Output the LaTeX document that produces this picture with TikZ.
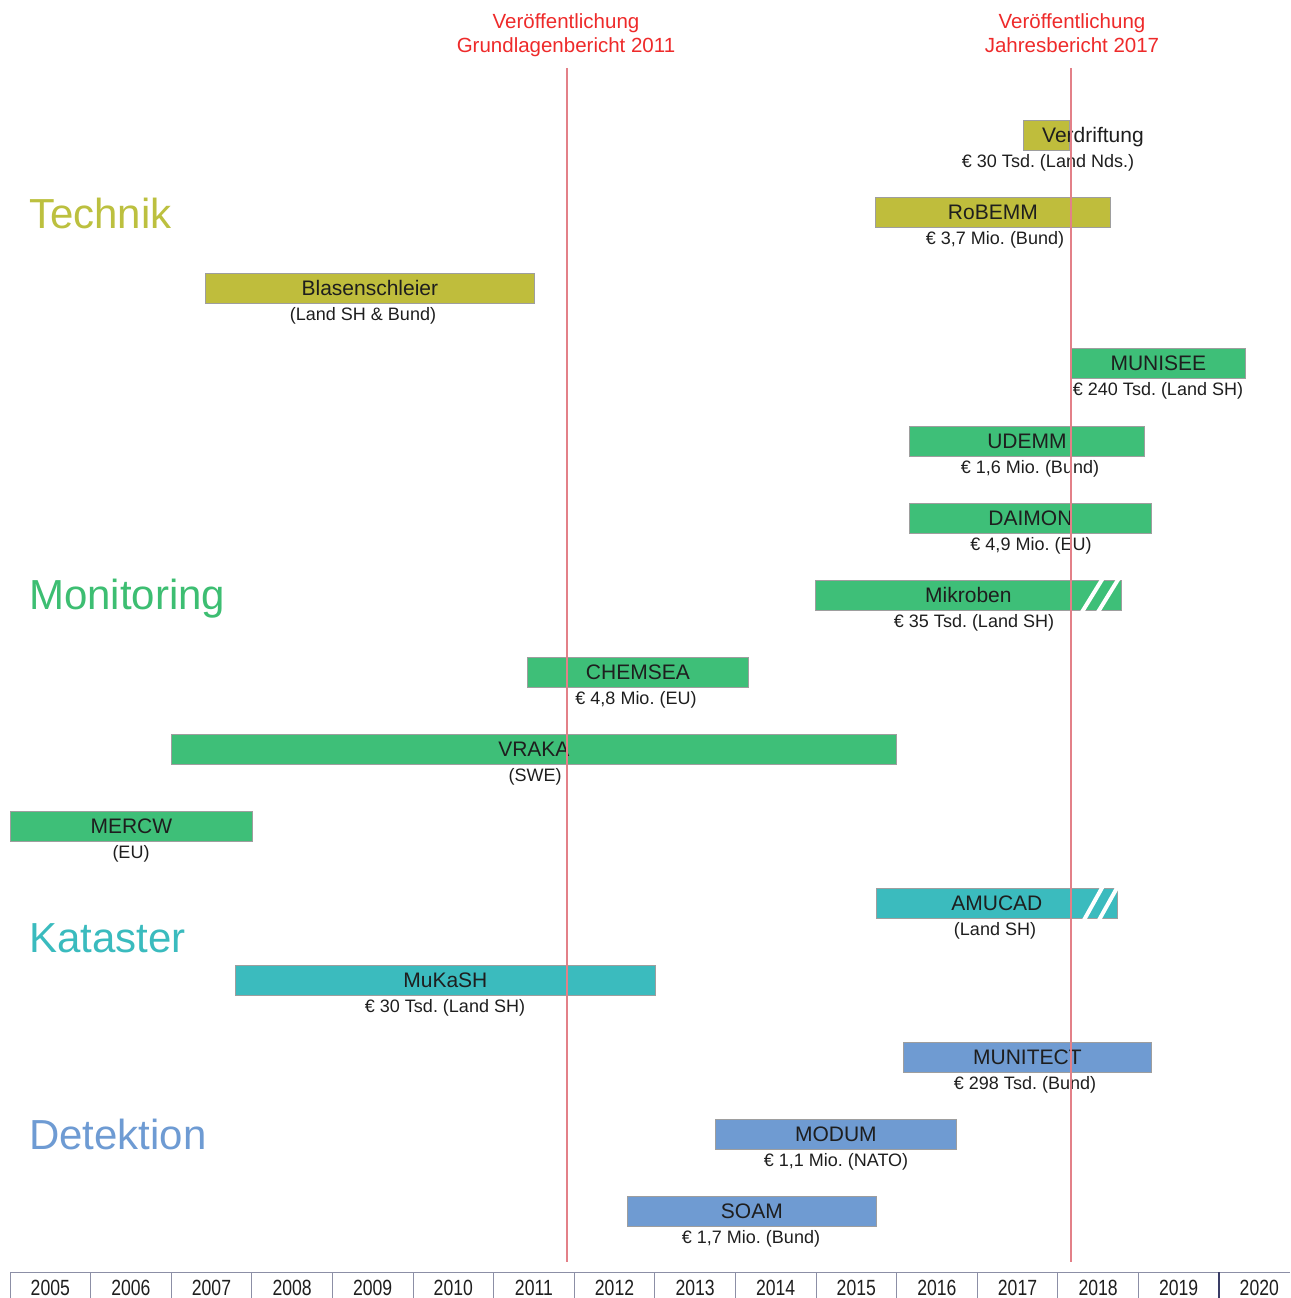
\documentclass[tikz,border=0pt]{standalone}
\usepackage{fontspec}
\setmainfont{Liberation Sans}
\frenchspacing
\definecolor{tech}{HTML}{BFBD3C}
\definecolor{techtxt}{HTML}{BCC03F}
\definecolor{moni}{HTML}{3EBF78}
\definecolor{monitxt}{HTML}{3DBE72}
\definecolor{kata}{HTML}{3BBBBE}
\definecolor{katatxt}{HTML}{3ABBBE}
\definecolor{dete}{HTML}{6F9BD2}
\definecolor{detetxt}{HTML}{6E9BD3}
\definecolor{pubred}{HTML}{EE2A2A}
\definecolor{publine}{HTML}{E38088}
\definecolor{axisc}{HTML}{8C8FA6}
\definecolor{axisdark}{HTML}{3A3D66}
\definecolor{txtdark}{HTML}{1E1E1E}
\newcommand\pbar[8]{%
  \node[projbar, fill=#5, minimum width={(#3)-(#2)}, anchor=north west] (#1) at (#2,#4) {#6};
  \node[sublabel, anchor=base] (#1-sub) at (#7,#4+47) {#8};
}
\begin{document}
\begin{tikzpicture}[x=1pt,y=-1pt,
  projbar/.style={draw=black!38, line width=0.8pt, inner sep=0pt, minimum height=30pt,
    text height=15pt, text depth=0pt, font=\fontsize{21}{24}\selectfont, text=txtdark},
  sublabel/.style={inner sep=0pt, font=\fontsize{18}{20}\selectfont, text=txtdark},
  category/.style={anchor=base west, inner sep=0pt, font=\fontsize{42}{48}\selectfont},
  pubtitle/.style={align=center, inner sep=0pt, anchor=north, text=pubred, font=\fontsize{20.5}{24}\selectfont},
  pubmark/.style={draw=publine, line width=1.4pt},
  yearlabel/.style={inner sep=0pt, anchor=base, font=\fontsize{22}{24}\selectfont, text=txtdark},
  stripe/.style={draw=white, line width=4pt}
]
\useasboundingbox (0,0) rectangle (1290,1298);

% category labels
\node[category, text=techtxt] (technik) at (29,228) {Technik};
\node[category, text=monitxt] (monitoring) at (29,609) {Monitoring};
\node[category, text=katatxt] (kataster) at (29,952) {Kataster};
\node[category, text=detetxt] (detektion) at (29,1149) {Detektion};

% publication titles
\node[pubtitle] (pub2011) at (566,13) {Veröffentlichung\\Grundlagenbericht 2011};
\node[pubtitle] (pub2017) at (1072,13) {Veröffentlichung\\Jahresbericht 2017};

% Technik
\node[projbar, fill=tech, minimum width=46pt, anchor=north west] (verdriftung) at (1023,120) {};
\node[inner sep=0pt, anchor=base west, font=\fontsize{21}{24}\selectfont, text=txtdark] (verdriftung-t) at (1042,142.5) {Verdriftung};
\node[sublabel, anchor=base] (verdriftung-sub) at (1048,167) {€ 30 Tsd. (Land Nds.)};
\pbar{robemm}{875}{1110}{197}{tech}{RoBEMM}{995}{€ 3,7 Mio. (Bund)}
\pbar{blasen}{205}{534}{273}{tech}{Blasenschleier}{363}{(Land SH \& Bund)}

% Monitoring
\pbar{munisee}{1071}{1245}{348}{moni}{MUNISEE}{1158}{€ 240 Tsd. (Land SH)}
\pbar{udemm}{909}{1144}{426}{moni}{UDEMM}{1030}{€ 1,6 Mio. (Bund)}
\pbar{daimon}{909}{1151}{503}{moni}{DAIMON}{1031}{€ 4,9 Mio. (EU)}
\pbar{mikroben}{815}{1121}{580}{moni}{Mikroben}{974}{€ 35 Tsd. (Land SH)}
\pbar{chemsea}{527}{748}{657}{moni}{CHEMSEA}{636}{€ 4,8 Mio. (EU)}
\pbar{vraka}{171}{896}{734}{moni}{VRAKA}{535}{(SWE)}
\pbar{mercw}{10}{252}{811}{moni}{MERCW}{131}{(EU)}

% Kataster
\pbar{amucad}{876}{1117}{888}{kata}{AMUCAD}{995}{(Land SH)}
\pbar{mukash}{235}{655}{965}{kata}{MuKaSH}{445}{€ 30 Tsd. (Land SH)}

% Detektion
\pbar{munitect}{903}{1151}{1042}{dete}{MUNITECT}{1025}{€ 298 Tsd. (Bund)}
\pbar{modum}{715}{956}{1119}{dete}{MODUM}{836}{€ 1,1 Mio. (NATO)}
\pbar{soam}{627}{876}{1196}{dete}{SOAM}{751}{€ 1,7 Mio. (Bund)}

% open-ended stripes
\begin{scope}
  \clip ([xshift=-1pt,yshift=1pt]mikroben.north west) rectangle ([xshift=1pt,yshift=-1pt]mikroben.south east);
  \draw[stripe] (1082,612) -- (1103,578);
  \draw[stripe] (1098,612) -- (1119,578);
\end{scope}
\begin{scope}
  \clip ([xshift=-1pt,yshift=1pt]amucad.north west) rectangle ([xshift=1pt,yshift=-1pt]amucad.south east);
  \draw[stripe] (1084,920) -- (1103,886);
  \draw[stripe] (1099,920) -- (1118,886);
\end{scope}

% publication lines
\coordinate (l2011top) at (567,68);
\coordinate (l2011bot) at (567,1262);
\coordinate (l2017top) at (1071,68);
\coordinate (l2017bot) at (1071,1262);
\draw[pubmark] (l2011top) -- (l2011bot);
\draw[pubmark] (l2017top) -- (l2017bot);

% time axis
\draw[axisc, line width=1pt] (10,1272) -- (1290,1272);
\foreach \k in {0,...,15} {
  \pgfmathsetmacro\xx{10+80.6*\k}
  \ifnum\k=15
    \draw[axisdark, line width=1.2pt] (\xx,1272) -- (\xx,1298);
  \else
    \draw[axisc, line width=1pt] (\xx,1272) -- (\xx,1298);
  \fi
  \pgfmathtruncatemacro\yr{2005+\k}
  \pgfmathsetmacro\xc{10+80.6*(\k+0.5)}
  \node[yearlabel] (year\yr) at (\xc,1295) {\scalebox{0.8}[1]{\yr}};
}
\end{tikzpicture}
\end{document}
